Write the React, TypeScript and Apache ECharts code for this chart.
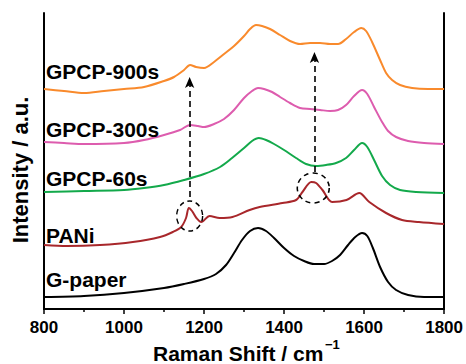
import React, { useEffect, useRef } from "react";
import * as echarts from "echarts";

// x: Raman shift (cm^-1), y: offset intensity (arbitrary units)
const xG900 = [800, 850, 900, 950, 1000, 1050, 1100, 1125, 1150, 1165, 1180, 1200, 1225, 1250, 1275, 1300, 1315, 1330, 1345, 1365, 1390, 1415, 1440, 1465, 1490, 1515, 1535, 1555, 1575, 1593, 1605, 1620, 1640, 1655, 1670, 1690, 1720, 1760, 1800];
const yG900 = [220, 218, 216, 218, 220, 222, 228, 232, 239, 244, 242, 241, 247, 255, 263, 273, 280, 284, 283, 280, 274, 268, 265, 266, 266, 265, 265, 270, 277, 281, 278, 267, 249, 236, 229, 224, 221, 220, 220];

const xG300 = [800, 850, 900, 1000, 1050, 1100, 1140, 1165, 1185, 1200, 1225, 1250, 1275, 1300, 1320, 1335, 1350, 1370, 1390, 1415, 1440, 1465, 1490, 1515, 1535, 1555, 1575, 1595, 1608, 1625, 1645, 1660, 1680, 1710, 1750, 1800];
const yG300 = [167, 166, 165, 166, 169, 174, 179, 184, 183, 182, 185, 190, 199, 211, 218, 221, 220, 217, 212, 206, 201, 200, 199, 198, 199, 204, 213, 219, 215, 202, 187, 178, 172, 168, 166, 165];

const xG60 = [800, 900, 1000, 1050, 1100, 1150, 1200, 1240, 1270, 1300, 1320, 1337, 1355, 1375, 1400, 1430, 1455, 1480, 1505, 1530, 1555, 1575, 1595, 1608, 1625, 1645, 1665, 1690, 1730, 1800];
const yG60 = [117, 118, 119, 121, 124, 129, 135, 142, 151, 161, 168, 171, 169, 165, 159, 151, 145, 143, 144, 146, 151, 159, 166, 162, 149, 133, 124, 119, 117, 116];

const xPANi = [800, 857, 940, 1022, 1090, 1122, 1143, 1155, 1162, 1170, 1181, 1193, 1214, 1239, 1271, 1314, 1339, 1396, 1430, 1446, 1468, 1480, 1496, 1520, 1556, 1588, 1613, 1655, 1695, 1737, 1800];
const yPANi = [64, 63, 64, 67, 72, 77, 82, 91, 101, 98, 91, 87, 93, 91, 92, 99, 102, 106, 109, 117, 127, 126, 119, 107, 109, 116, 107, 96, 89, 87, 85];

const xGpaper = [800, 900, 1000, 1100, 1150, 1200, 1230, 1255, 1275, 1295, 1315, 1335, 1355, 1375, 1400, 1425, 1450, 1475, 1500, 1520, 1540, 1560, 1578, 1595, 1608, 1622, 1640, 1660, 1680, 1710, 1750, 1800];
const yGpaper = [12, 13, 16, 21, 25, 30, 35, 44, 56, 69, 78, 81, 78, 71, 61, 53, 48, 45, 45, 48, 54, 64, 72, 76, 73, 61, 42, 27, 19, 14, 12, 12];

const seriesNames = ["GPCP-900s", "GPCP-300s", "GPCP-60s", "PANi", "G-paper"];
const seriesColors = ["#F98A2C", "#DD5CAE", "#13A94B", "#A8272B", "#000000"];
const seriesX = [xG900, xG300, xG60, xPANi, xGpaper];
const seriesY = [yG900, yG300, yG60, yPANi, yGpaper];
const labelY = [71, 129, 178, 235, 279];

const xTicks = [800, 1000, 1200, 1400, 1600, 1800];

// annotations in data coords
const arrows = [
  { x: 1164, from: 112, to: 232 },
  { x: 1476, from: 137, to: 257 },
];
const circles = [
  { x: 1164, y: 93, w: 26, h: 30 },
  { x: 1473, y: 121, w: 32, h: 30 },
];

const FONT = "'Liberation Sans', Arial, Helvetica, sans-serif";

export default function App() {
  const ref = useRef<HTMLDivElement>(null);
  useEffect(() => {
    if (!ref.current) return;
    const chart = echarts.init(ref.current, undefined, { renderer: "svg" });
    const series: any[] = seriesNames.map((name, i) => ({
      name,
      type: "line",
      data: seriesX[i].map((x, j) => [x, seriesY[i][j]]),
      smooth: 0.3,
      showSymbol: false,
      lineStyle: { color: seriesColors[i], width: 2 },
      itemStyle: { color: seriesColors[i] },
      z: 3,
    }));
    series.push({
      type: "line",
      data: [],
      silent: true,
      markLine: {
        silent: true,
        symbol: ["none", "arrow"],
        symbolSize: [7, 11],
        label: { show: false },
        lineStyle: { color: "#000", width: 1.6, type: [6, 4] },
        data: arrows.map((a) => [
          { coord: [a.x, a.from] },
          { coord: [a.x, a.to] },
        ]),
      },
      markPoint: {
        silent: true,
        symbol: "circle",
        label: { show: false },
        data: circles.map((c) => ({
          coord: [c.x, c.y],
          symbolSize: [c.w, c.h],
          itemStyle: {
            color: "rgba(0,0,0,0)",
            borderColor: "#000",
            borderWidth: 1.5,
            borderType: [5, 4],
          },
        })),
      },
    });

    const graphics: any[] = seriesNames.map((name, i) => ({
      type: "text",
      x: 46,
      y: labelY[i],
      style: {
        text: name,
        font: `bold 21px ${FONT}`,
        fill: "#000",
        textAlign: "left",
        textVerticalAlign: "middle",
      },
      z: 10,
    }));
    graphics.push({
      type: "text",
      x: 153,
      y: 353,
      style: {
        text: "Raman Shift / cm",
        font: `bold 21px ${FONT}`,
        fill: "#000",
        textAlign: "left",
        textVerticalAlign: "middle",
      },
    });
    graphics.push({
      type: "text",
      x: 325,
      y: 344,
      style: {
        text: "\u22121",
        font: `bold 13px ${FONT}`,
        fill: "#000",
        textAlign: "left",
        textVerticalAlign: "middle",
      },
    });
    graphics.push({
      type: "text",
      x: 20,
      y: 170,
      rotation: Math.PI / 2,
      style: {
        text: "Intensity / a.u.",
        font: `bold 22px ${FONT}`,
        fill: "#000",
        textAlign: "center",
        textVerticalAlign: "middle",
      },
    });

    const hiddenAxisBits = {
      axisTick: { show: false },
      axisLabel: { show: false },
      splitLine: { show: false },
    };

    chart.setOption({
      animation: false,
      grid: {
        left: 44,
        right: 21,
        top: 13,
        bottom: 55,
      },
      xAxis: [
        {
          type: "value",
          min: 800,
          max: 1800,
          interval: 200,
          axisLine: { show: true, lineStyle: { color: "#000", width: 2 } },
          axisTick: { show: true, inside: false, length: 5, lineStyle: { color: "#000", width: 1.5 } },
          minorTick: { show: true, splitNumber: 2, length: 3, lineStyle: { color: "#000", width: 1.5 } },
          splitLine: { show: false },
          minorSplitLine: { show: false },
          axisLabel: {
            color: "#000",
            fontSize: 17,
            fontWeight: "bold",
            fontFamily: FONT,
            margin: 10,
            customValues: xTicks,
            formatter: (v: number) => String(v),
          },
        },
        {
          type: "value",
          position: "top",
          min: 800,
          max: 1800,
          axisLine: { show: true, lineStyle: { color: "#000", width: 2 } },
          ...hiddenAxisBits,
        },
      ],
      yAxis: [
        {
          type: "value",
          min: 0,
          max: 296,
          axisLine: { show: true, lineStyle: { color: "#000", width: 2 } },
          ...hiddenAxisBits,
        },
        {
          type: "value",
          position: "right",
          min: 0,
          max: 296,
          axisLine: { show: true, lineStyle: { color: "#000", width: 2 } },
          ...hiddenAxisBits,
        },
      ],
      series,
      graphic: graphics,
    });
    return () => chart.dispose();
  }, []);
  return <div ref={ref} style={{ width: 466, height: 364, position: "absolute", left: 0, top: 0 }} />;
}
